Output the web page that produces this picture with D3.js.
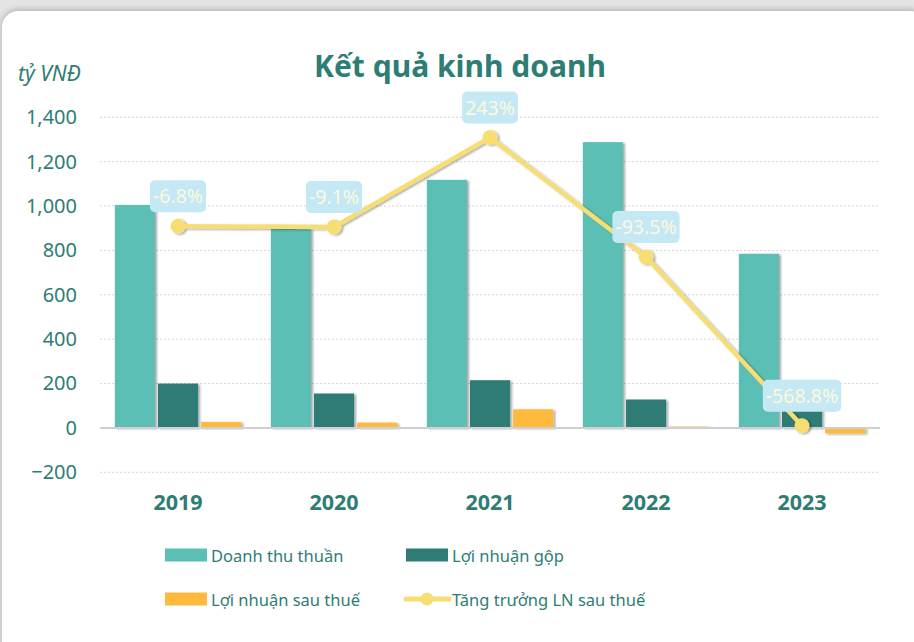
<!DOCTYPE html>
<html>
<head>
<meta charset="utf-8">
<script src="https://cdn.jsdelivr.net/npm/d3@7"></script>
<style>
  html, body { margin: 0; padding: 0; }
  body { width: 914px; height: 642px; background: #e4e4e4; overflow: hidden; position: relative; font-family: "Noto Sans", "Open Sans", sans-serif; }
  #card { position: absolute; left: 2px; top: 11px; width: 925px; height: 650px; background: #fff; border-radius: 16px; box-shadow: 0 -1px 6px rgba(0,0,0,0.25); }
  svg { position: absolute; left: 0; top: 0; }
</style>
</head>
<body>
<div id="card"></div>
<div id="chart"></div>
<script>
// values (ty VND / %)
var years = ["2019", "2020", "2021", "2022", "2023"];
var seriesNames = ["Doanh thu thuần", "Lợi nhuận gộp", "Lợi nhuận sau thuế"];
var doanhThu = [1005, 898, 1118, 1288, 785];
var loiNhuanGop = [200, 155, 215, 128, 88];
var loiNhuanSauThue = [27, 24, 84, 6, -25];
var tangTruong = [-6.8, -9.1, 243, -93.5, -568.8];
var tangTruongLabels = ["-6.8%", "-9.1%", "243%", "-93.5%", "-568.8%"];
var yTicks = [-200, 0, 200, 400, 600, 800, 1000, 1200, 1400];
var lineName = "Tăng trưởng LN sau thuế";

var colors = ["#5cbfb6", "#2e7c74", "#ffba3c"];
var lineColor = "#f6de72";
var textColor = "#2e7d74";

var width = 914, height = 642;
var left = 100, right = 880;

var svg = d3.select('#chart')
    .append('svg')
    .attr('width', width)
    .attr('height', height);

var defs = svg.append('defs');
var shadow = defs.append('filter').attr('id', 'shadow')
    .attr('x', '-20%').attr('y', '-20%').attr('width', '150%').attr('height', '150%');
shadow.append('feDropShadow')
    .attr('dx', 2).attr('dy', 1).attr('stdDeviation', 1)
    .attr('flood-color', '#000').attr('flood-opacity', 0.35);

var x = d3.scaleBand()
    .domain(years)
    .range([left, right])
    .paddingInner(0.19)
    .paddingOuter(0.095);

var xSub = d3.scaleBand()
    .domain(seriesNames)
    .range([0, x.bandwidth()])
    .paddingInner(0.07);

var y = d3.scaleLinear()
    .domain([-200, 1400])
    .range([472.3, 117.3]);

// hidden secondary axis for the growth line
var y2 = d3.scaleLinear()
    .domain([-700, 300])
    .range([472.3, 117.3]);

// title
svg.append('text')
    .attr('x', 460)
    .attr('y', 77)
    .attr('text-anchor', 'middle')
    .attr('font-size', 30)
    .attr('font-weight', 'bold')
    .attr('fill', textColor)
    .text('Kết quả kinh doanh');

svg.append('text')
    .attr('x', 18)
    .attr('y', 81)
    .attr('font-size', 21)
    .attr('font-style', 'italic')
    .attr('fill', textColor)
    .text('tỷ VNĐ');

// grid
svg.append('g')
    .selectAll('line')
    .data(yTicks.filter(d => d != 0))
    .enter()
    .append('line')
    .attr('x1', left).attr('x2', right)
    .attr('y1', d => y(d)).attr('y2', d => y(d))
    .attr('stroke', '#d4d4d4')
    .attr('stroke-width', 1)
    .attr('stroke-dasharray', '2,2');

// y axis labels
var yAxis = svg.append('g')
    .attr('transform', 'translate(77,0)')
    .call(d3.axisLeft(y).tickValues(yTicks).tickSize(0).tickPadding(0).tickFormat(d3.format(',')));
yAxis.select('.domain').remove();
yAxis.selectAll('text')
    .attr('font-size', 20)
    .attr('font-family', '"Noto Sans", sans-serif')
    .attr('fill', textColor);

// bars
var barData = [];
years.forEach(function(yr, i) {
    [doanhThu, loiNhuanGop, loiNhuanSauThue].forEach(function(arr, j) {
        barData.push({ year: yr, name: seriesNames[j], value: arr[i], color: colors[j] });
    });
});

svg.append('g')
    .selectAll('rect')
    .data(barData)
    .enter()
    .append('rect')
    .attr('x', d => x(d.year) + xSub(d.name))
    .attr('y', d => y(Math.max(0, d.value)))
    .attr('width', xSub.bandwidth())
    .attr('height', d => Math.abs(y(d.value) - y(0)))
    .attr('fill', d => d.color)
    .attr('filter', 'url(#shadow)');

// zero line
svg.append('line')
    .attr('x1', left).attr('x2', right)
    .attr('y1', y(0)).attr('y2', y(0))
    .attr('stroke', '#d0d0d0')
    .attr('stroke-width', 2);

// x axis labels
var xAxis = svg.append('g')
    .attr('transform', 'translate(0,495)')
    .call(d3.axisBottom(x).tickSize(0).tickPadding(0));
xAxis.select('.domain').remove();
xAxis.selectAll('text')
    .attr('font-size', 21.5)
    .attr('font-weight', 'bold')
    .attr('font-family', '"Noto Sans", sans-serif')
    .attr('fill', textColor);

// growth line
var lineData = years.map((yr, i) => ({ year: yr, value: tangTruong[i], label: tangTruongLabels[i] }));
var line = d3.line()
    .x(d => x(d.year) + x.bandwidth() / 2)
    .y(d => y2(d.value));

var lg = svg.append('g').attr('filter', 'url(#shadow)');
lg.append('path')
    .datum(lineData)
    .attr('d', line)
    .attr('fill', 'none')
    .attr('stroke', lineColor)
    .attr('stroke-width', 4.5)
    .attr('stroke-linejoin', 'round');
lg.selectAll('circle')
    .data(lineData)
    .enter()
    .append('circle')
    .attr('cx', d => x(d.year) + x.bandwidth() / 2)
    .attr('cy', d => y2(d.value))
    .attr('r', 7.5)
    .attr('fill', lineColor);

// data labels
var labels = svg.append('g')
    .selectAll('g')
    .data(lineData)
    .enter()
    .append('g')
    .attr('transform', d => 'translate(' + (x(d.year) + x.bandwidth() / 2) + ',' + (y2(d.value) - 30) + ')');

labels.append('rect')
    .attr('fill', '#c4e8f4')
    .attr('rx', 5);
labels.append('text')
    .attr('text-anchor', 'middle')
    .attr('y', 7)
    .attr('font-size', 19.5)
    .attr('fill', '#fdf8dc')
    .text(d => d.label);
labels.each(function() {
    var g = d3.select(this);
    var w = g.select('text').node().getComputedTextLength();
    g.select('rect')
        .attr('x', -w / 2 - 3)
        .attr('y', -16)
        .attr('width', w + 6)
        .attr('height', 32);
});

// legend
var legendItems = [
    { name: seriesNames[0], color: colors[0], type: 'bar', x: 165, y: 555 },
    { name: seriesNames[1], color: colors[1], type: 'bar', x: 406, y: 555 },
    { name: seriesNames[2], color: colors[2], type: 'bar', x: 165, y: 599 },
    { name: lineName, color: lineColor, type: 'line', x: 406, y: 599 }
];

var legend = svg.append('g')
    .selectAll('g')
    .data(legendItems)
    .enter()
    .append('g')
    .attr('transform', d => 'translate(' + d.x + ',' + d.y + ')');

legend.filter(d => d.type == 'bar')
    .append('rect')
    .attr('x', 0).attr('y', -6.5)
    .attr('width', 42).attr('height', 13)
    .attr('fill', d => d.color);

var legLine = legend.filter(d => d.type == 'line');
legLine.append('line')
    .attr('x1', 0).attr('x2', 43)
    .attr('y1', 0).attr('y2', 0)
    .attr('stroke', lineColor)
    .attr('stroke-width', 5)
    .attr('stroke-linecap', 'round');
legLine.append('circle')
    .attr('cx', 21).attr('cy', 0).attr('r', 6.5)
    .attr('fill', lineColor);

legend.append('text')
    .attr('x', 46)
    .attr('y', 7)
    .attr('font-size', 16.5)
    .attr('fill', textColor)
    .text(d => d.name);
</script>
</body>
</html>
